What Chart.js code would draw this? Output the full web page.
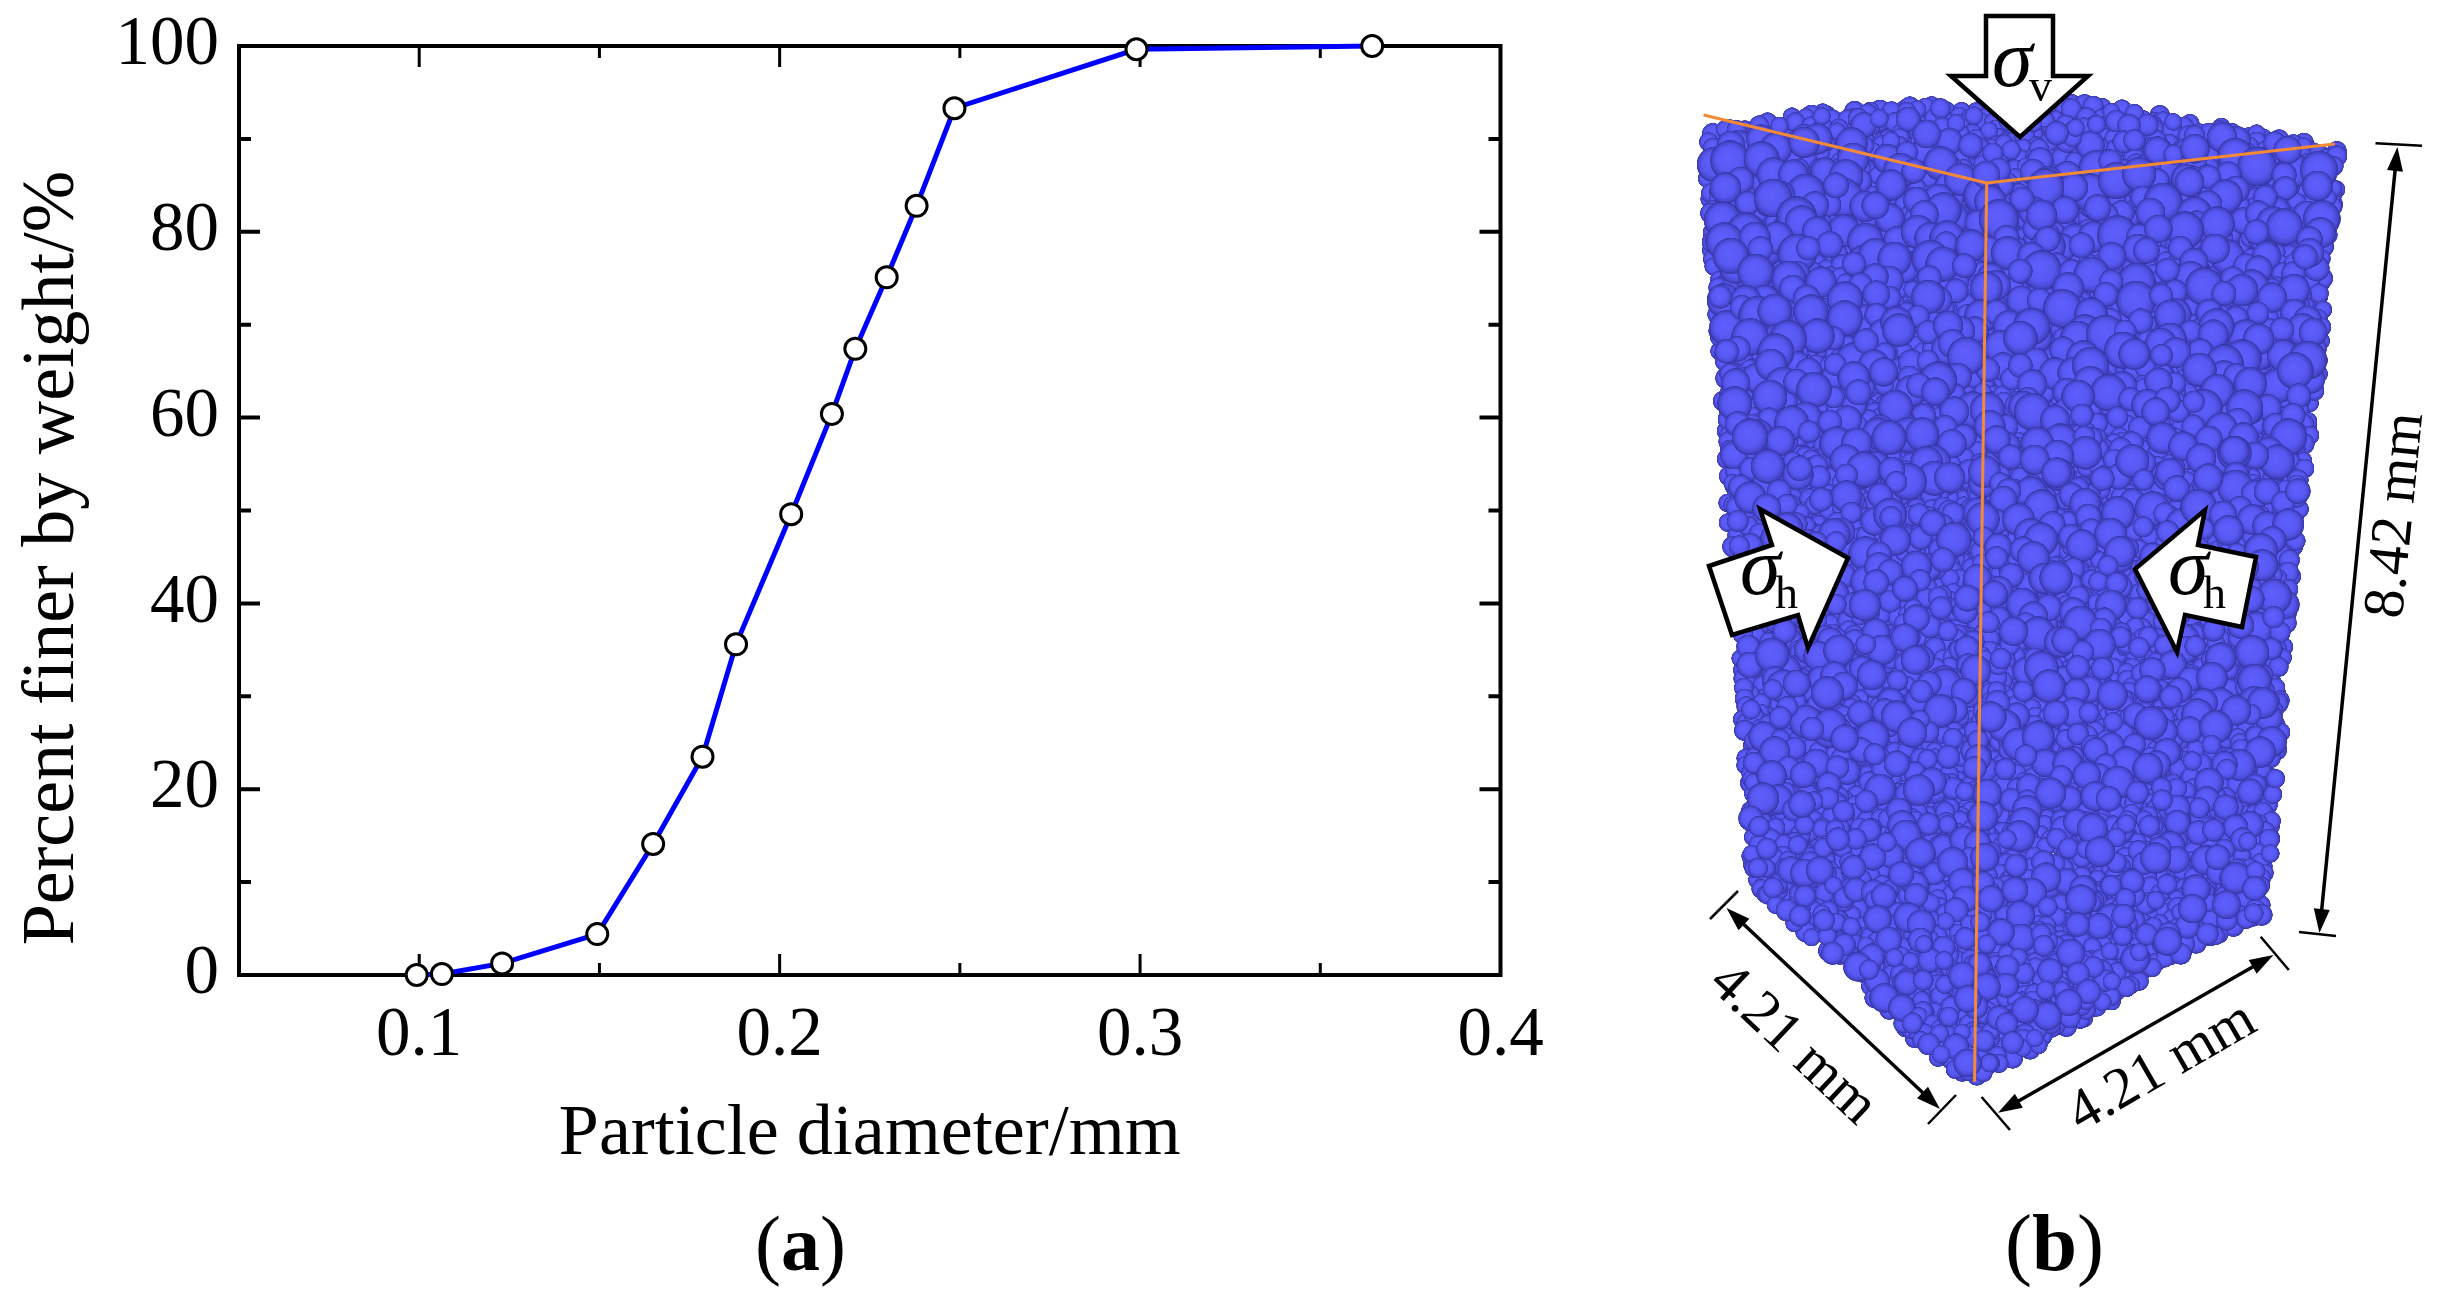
<!DOCTYPE html>
<html>
<head>
<meta charset="utf-8">
<title>Particle size distribution</title>
<script src="https://cdn.jsdelivr.net/npm/chart.js@4/dist/chart.umd.min.js"></script>
<style>
    html, body { margin: 0; padding: 0; background: #fff; }
    canvas { display: block; }
</style>
</head>
<body>
<canvas id="gradingChart" width="2443" height="1306"></canvas>
<script>
// values
const particleDiameter = [0.0993, 0.1063, 0.123, 0.1494, 0.1649, 0.1786, 0.1879, 0.2032, 0.2145, 0.221, 0.2297, 0.238, 0.2485, 0.299, 0.3644];
const percentFiner = [0, 0.1, 1.25, 4.4, 14.1, 23.5, 35.6, 49.6, 60.4, 67.4, 75.1, 82.8, 93.3, 99.65, 100];

const xMajorTicks = [0.1, 0.2, 0.3, 0.4];
const xMinorTicks = [0.15, 0.25, 0.35];
const yMajorTicks = [0, 20, 40, 60, 80, 100];
const yMinorTicks = [10, 30, 50, 70, 90];

const xAxisTitle = 'Particle diameter/mm';
const yAxisTitle = 'Percent finer by weight/%';

const SERIF = "'Liberation Serif', 'Times New Roman', serif";
const ORANGE = '#f58a35';

// outline of the specimen in panel (b), only used for the sphere texture
const specimenOutline = [
    [1698,117],[1778,107],[1875,98],[1956,94],[2084,93],[2160,105],[2262,122],[2349,143],
    [2349,173],[2339,233],[2336,277],[2329,367],[2313,483],[2308,517],[2300,600],[2295,700],
    [2288,767],[2283,833],[2275,900],[2272,923],[2211,948],[2160,977],[2109,1013],[2058,1043],
    [2002,1077],[1969,1092],[1936,1067],[1900,1037],[1854,987],[1803,940],[1742,890],[1739,867],
    [1737,800],[1732,717],[1727,650],[1719,533],[1714,433],[1706,333],[1701,233],[1696,167]
];
const specimenTop = [[1698,117],[1981,92],[2349,143],[1987,183]];

function polyPath(points) {
    const p = new Path2D();
    points.forEach((pt, i) => i ? p.lineTo(pt[0], pt[1]) : p.moveTo(pt[0], pt[1]));
    p.closePath();
    return p;
}

// fixed hash so the texture is the same on every run
function hash(i, j, k) {
    const s = Math.sin(i * 12.9898 + j * 78.233 + k * 37.719) * 43758.5453;
    return s - Math.floor(s);
}

function makeSphereSprite() {
    const c = document.createElement('canvas');
    c.width = c.height = 64;
    const g = c.getContext('2d');
    const grad = g.createRadialGradient(28, 26, 2, 32, 32, 32);
    grad.addColorStop(0, '#5f5fff');
    grad.addColorStop(0.62, '#5858f2');
    grad.addColorStop(0.86, '#4848cf');
    grad.addColorStop(1, '#33339e');
    g.fillStyle = grad;
    g.beginPath();
    g.arc(32, 32, 32, 0, Math.PI * 2);
    g.fill();
    return c;
}

function drawSpheres(ctx) {
    const sprite = makeSphereSprite();
    const outline = polyPath(specimenOutline);
    const top = polyPath(specimenTop);
    const fits = (x, y, r) =>
        ctx.isPointInPath(outline, x - r, y) && ctx.isPointInPath(outline, x + r, y) &&
        ctx.isPointInPath(outline, x, y - r) && ctx.isPointInPath(outline, x, y + r);

    const spheres = [];
    const add = (step, rMin, rMax, layer, scaled) => {
        let i = 0;
        for (let y = 85; y < 1100; y += step, i++) {
            let j = 0;
            for (let x = 1690; x < 2355; x += step, j++) {
                const px = x + (i % 2) * step / 2 + (hash(i, j, layer) - 0.5) * step;
                const py = y + (hash(j, i, layer + 1) - 0.5) * step;
                const isTop = ctx.isPointInPath(top, px, py);
                const depth = !scaled ? 1 : isTop ? 0.55 + 0.4 * (py - 92) / 90 : 1 - 0.3 * (py - 180) / 900;
                const v = hash(i, j, layer + 2);
                const r = (rMin + (rMax - rMin) * Math.pow(v, 1.3)) * depth;
                if (fits(px, py, r)) spheres.push({ x: px, y: py, r, order: layer * 2000 + py + hash(i, j, layer + 3) * 30 });
            }
        }
    };
    add(9, 9, 11, 0, false);
    add(21, 12, 21, 1, true);
    spheres.sort((a, b) => a.order - b.order);
    spheres.forEach(s => ctx.drawImage(sprite, s.x - s.r, s.y - s.r, s.r * 2, s.r * 2));

    ctx.strokeStyle = ORANGE;
    ctx.lineWidth = 3;
    ctx.beginPath();
    ctx.moveTo(1703.6, 115);
    ctx.lineTo(1986.7, 183);
    ctx.lineTo(2334.7, 144);
    ctx.moveTo(1986.7, 183);
    ctx.lineTo(1974.5, 1081.7);
    ctx.stroke();
}

function drawBlockArrow(ctx, points) {
    ctx.fillStyle = '#fff';
    ctx.strokeStyle = '#000';
    ctx.lineWidth = 4.5;
    ctx.lineJoin = 'miter';
    const p = polyPath(points);
    ctx.fill(p);
    ctx.stroke(p);
}

function drawDimension(ctx, a, b, capA, capB, width) {
    ctx.strokeStyle = '#000';
    ctx.fillStyle = '#000';
    const ang = Math.atan2(b[1] - a[1], b[0] - a[0]);
    const head = 24, half = 8;
    ctx.lineWidth = width;
    ctx.beginPath();
    ctx.moveTo(a[0] + Math.cos(ang) * head * 0.8, a[1] + Math.sin(ang) * head * 0.8);
    ctx.lineTo(b[0] - Math.cos(ang) * head * 0.8, b[1] - Math.sin(ang) * head * 0.8);
    ctx.stroke();
    [[a, ang], [b, ang + Math.PI]].forEach(([tip, t]) => {
        ctx.beginPath();
        ctx.moveTo(tip[0], tip[1]);
        ctx.lineTo(tip[0] + Math.cos(t) * head - Math.sin(t) * half, tip[1] + Math.sin(t) * head + Math.cos(t) * half);
        ctx.lineTo(tip[0] + Math.cos(t) * head + Math.sin(t) * half, tip[1] + Math.sin(t) * head - Math.cos(t) * half);
        ctx.closePath();
        ctx.fill();
    });
    ctx.lineWidth = 2.5;
    ctx.beginPath();
    [capA, capB].forEach(c => { ctx.moveTo(c[0], c[1]); ctx.lineTo(c[2], c[3]); });
    ctx.stroke();
}

function putText(ctx, text, x, y, font, angle, align) {
    ctx.save();
    ctx.translate(x, y);
    ctx.rotate((angle || 0) * Math.PI / 180);
    ctx.font = font;
    ctx.fillStyle = '#000';
    ctx.textAlign = align || 'left';
    ctx.textBaseline = 'alphabetic';
    ctx.fillText(text, 0, 0);
    ctx.restore();
}

function putPanelLabel(ctx, letter, x, y, size) {
    let cur = x;
    [['(', 'normal'], [letter, 'bold'], [')', 'normal']].forEach(([t, w]) => {
        const font = `${w} ${size}px ${SERIF}`;
        putText(ctx, t, cur, y, font);
        ctx.font = font;
        cur += ctx.measureText(t).width;
    });
}

// frame with inward ticks on all four sides
const framePlugin = {
    id: 'frame',
    beforeDatasetsDraw(chart) {
        const { ctx, chartArea: a, scales: { x, y } } = chart;
        ctx.save();
        ctx.strokeStyle = '#000';
        ctx.lineCap = 'butt';
        const xTick = (v, len) => {
            const px = x.getPixelForValue(v);
            ctx.moveTo(px, a.bottom); ctx.lineTo(px, a.bottom - len);
            ctx.moveTo(px, a.top); ctx.lineTo(px, a.top + len);
        };
        const yTick = (v, len) => {
            const py = y.getPixelForValue(v);
            ctx.moveTo(a.left, py); ctx.lineTo(a.left + len, py);
            ctx.moveTo(a.right, py); ctx.lineTo(a.right - len, py);
        };
        ctx.lineWidth = 3;
        ctx.beginPath();
        xMajorTicks.forEach(v => xTick(v, 21));
        xMinorTicks.forEach(v => xTick(v, 12));
        ctx.stroke();
        ctx.lineWidth = 4;
        ctx.beginPath();
        yMajorTicks.forEach(v => yTick(v, 21));
        yMinorTicks.forEach(v => yTick(v, 12));
        ctx.stroke();
        ctx.lineWidth = 4;
        ctx.strokeRect(a.left, a.top, a.right - a.left, a.bottom - a.top);
        ctx.restore();
    }
};

// panel labels and the specimen sketch of panel (b)
const panelPlugin = {
    id: 'panels',
    afterDraw(chart) {
        const ctx = chart.ctx;
        ctx.save();
        putText(ctx, yAxisTitle, 73, 558, `74px ${SERIF}`, -90, 'center');
        putPanelLabel(ctx, 'a', 755, 1270, 78);
        putPanelLabel(ctx, 'b', 2005, 1270, 81);

        drawSpheres(ctx);

        drawBlockArrow(ctx, [[1986,16],[2053,16],[2053,76],[2088,76],[2020,137],[1951,76],[1986,76]]);
        drawBlockArrow(ctx, [[1760,509],[1772,545],[1709,566],[1732,635],[1798,615],[1808,648],[1848,558]]);
        drawBlockArrow(ctx, [[2205,510],[2198,545],[2256,557],[2242,627],[2185,615],[2177,652],[2135,569]]);

        const sigmaFont = `italic 82px ${SERIF}`;
        const subFont = `46px ${SERIF}`;
        putText(ctx, '\u03c3', 1992, 86, sigmaFont);
        putText(ctx, 'v', 2029, 101, subFont);
        putText(ctx, '\u03c3', 1740, 594, sigmaFont);
        putText(ctx, 'h', 1775, 608, subFont);
        putText(ctx, '\u03c3', 2168, 594, sigmaFont);
        putText(ctx, 'h', 2203, 608, subFont);

        drawDimension(ctx, [2397.4, 147], [2319.4, 933], [2375.5, 143.3, 2422, 145.7], [2299, 932, 2336, 936], 3.5);
        drawDimension(ctx, [1726.5, 908], [1940, 1109], [1738, 891, 1710, 919], [1956, 1095, 1928, 1124], 3.5);
        drawDimension(ctx, [1998, 1112.7], [2273.5, 955], [1981.6, 1097, 2010, 1130], [2260.7, 936.7, 2288.8, 970], 3.5);

        const dimFont = `58px ${SERIF}`;
        putText(ctx, '8.42 mm', 2412, 517, dimFont, -84.3, 'center');
        putText(ctx, '4.21 mm', 1782, 1056, dimFont, 43.3, 'center');
        putText(ctx, '4.21 mm', 2170, 1081, dimFont, -30, 'center');
        ctx.restore();
    }
};

new Chart(document.getElementById('gradingChart'), {
    type: 'line',
    data: {
        labels: particleDiameter,
        datasets: [{
            data: particleDiameter.map((d, i) => ({ x: d, y: percentFiner[i] })),
            borderColor: '#0000ff',
            borderWidth: 5,
            tension: 0,
            clip: false,
            pointRadius: 10.5,
            pointBorderWidth: 3,
            pointBorderColor: '#000',
            pointBackgroundColor: '#fff'
        }]
    },
    options: {
        responsive: false,
        animation: false,
        events: [],
        layout: { padding: { top: 46, right: 942.5, bottom: 0, left: 0 } },
        plugins: { legend: { display: false }, tooltip: { enabled: false } },
        scales: {
            x: {
                type: 'linear',
                min: 0.05,
                max: 0.4,
                grid: { display: false },
                border: { display: false },
                afterBuildTicks(s) { s.ticks = xMajorTicks.map(v => ({ value: v })); },
                afterFit(s) { s.height = 331; s.paddingLeft = 0; s.paddingRight = 0; },
                ticks: {
                    color: '#000',
                    font: { family: SERIF, size: 69 },
                    padding: 12,
                    maxRotation: 0,
                    autoSkip: false,
                    callback: v => v.toFixed(1)
                },
                title: {
                    display: true,
                    text: xAxisTitle,
                    color: '#000',
                    font: { family: SERIF, size: 72 },
                    padding: { top: 0, bottom: 128 }
                }
            },
            y: {
                min: 0,
                max: 100,
                grid: { display: false },
                border: { display: false },
                afterBuildTicks(s) { s.ticks = yMajorTicks.map(v => ({ value: v })); },
                afterFit(s) { s.width = 239; s.paddingTop = 0; s.paddingBottom = 0; },
                ticks: {
                    color: '#000',
                    font: { family: SERIF, size: 69 },
                    padding: 12,
                    autoSkip: false
                }
            }
        }
    },
    plugins: [framePlugin, panelPlugin]
});
</script>
</body>
</html>
